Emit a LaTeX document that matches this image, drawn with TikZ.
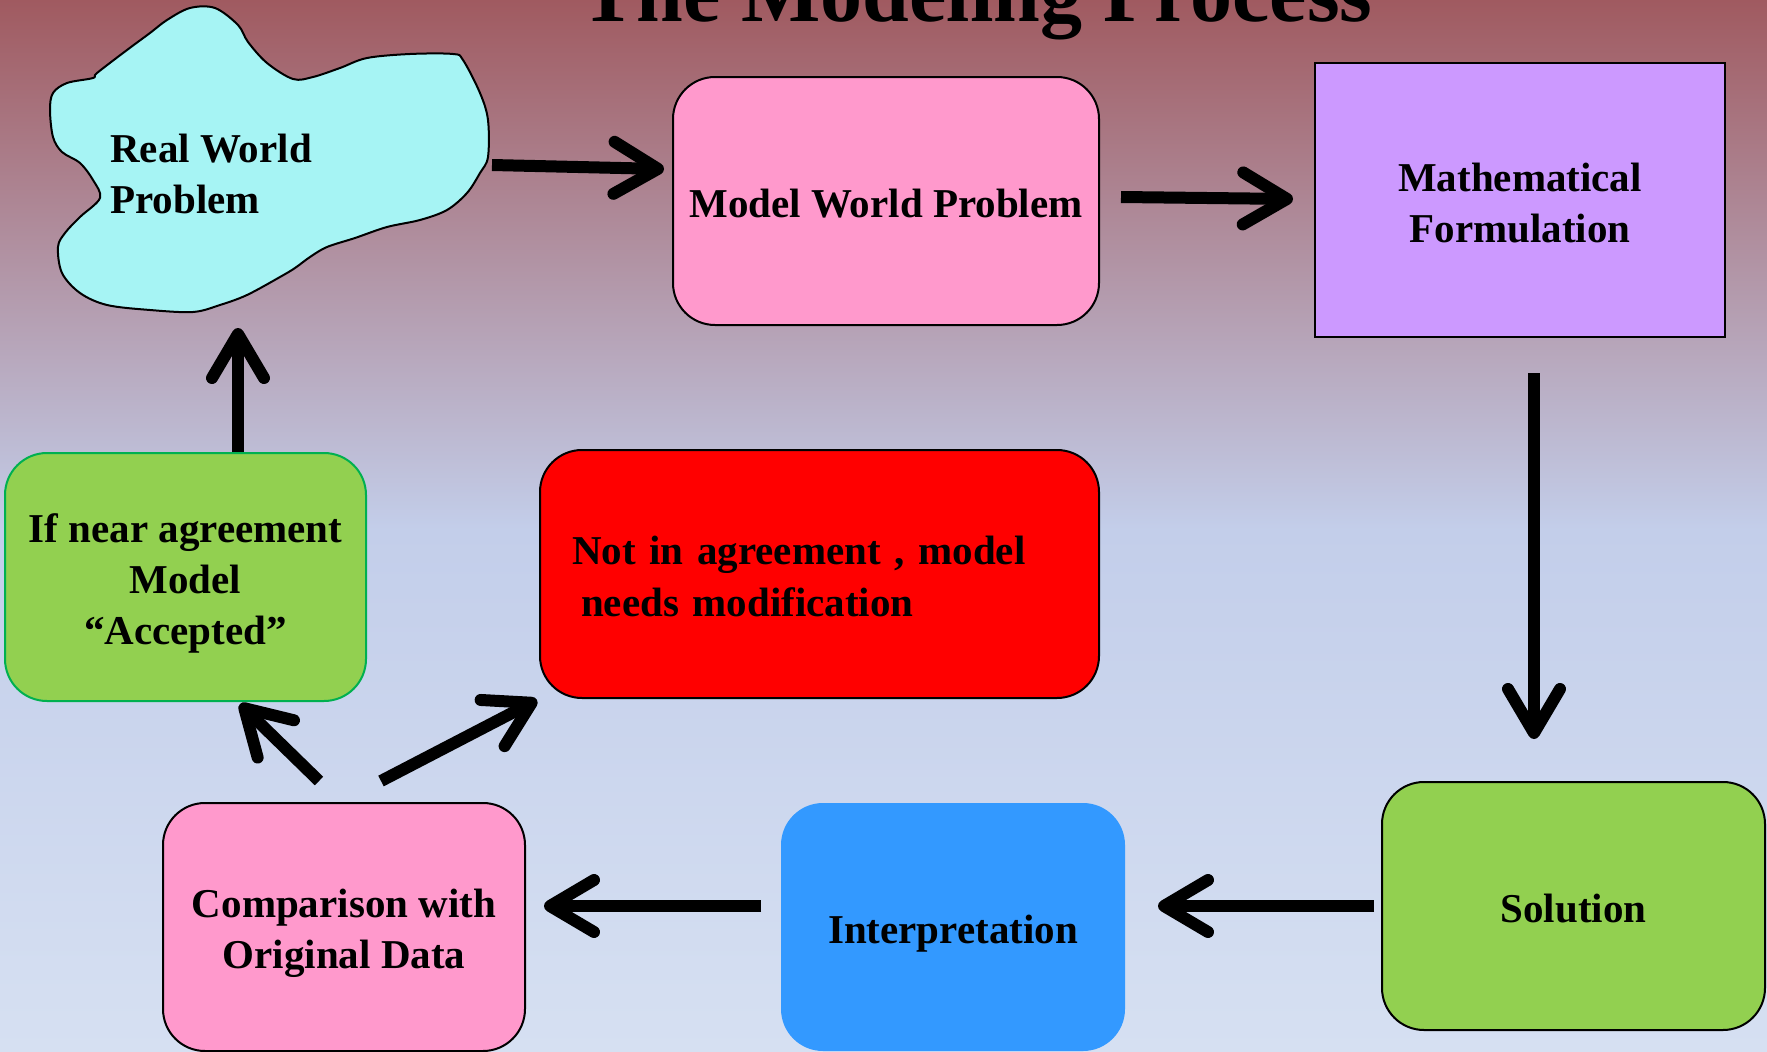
\documentclass[tikz,border=0pt]{standalone}
\usepackage{fontspec}
\setmainfont{Liberation Serif}
\usetikzlibrary{arrows.meta,calc}
\definecolor{bgtop}{HTML}{A05A60}
\definecolor{bgmid}{HTML}{C3CEEA}
\definecolor{bgbot}{HTML}{D6E0F2}
\definecolor{cloudc}{HTML}{A6F4F4}
\definecolor{pinkc}{HTML}{FF99CC}
\definecolor{purplec}{HTML}{CC99FF}
\definecolor{greenc}{HTML}{92D050}
\definecolor{accgreen}{HTML}{00B050}
\definecolor{bluec}{HTML}{3399FF}
% line strut giving every box text the same ascent and descent
\newcommand\ls{\rule[-9pt]{0pt}{51pt}}
\begin{document}
\begin{tikzpicture}[x=1pt,y=-1pt,
  lbl/.style={font=\fontsize{41}{51}\selectfont\bfseries, align=center},
  box/.style={lbl, draw=black, line width=2pt, rounded corners=42pt,
    minimum height=248pt, inner sep=0pt},
  arr/.style={line width=12pt, -{Straight Barb[length=44pt,width=52pt,round]}}]
\useasboundingbox (0,0) rectangle (1767,1052);
% background gradient
\shade[top color=bgtop, bottom color=bgmid] (0,0) rectangle (1767,530);
\shade[top color=bgmid, bottom color=bgbot] (0,530) rectangle (1767,1052);

% title
\node[font=\fontsize{84}{90}\selectfont\bfseries, anchor=base, inner sep=0pt]
  (title) at (976.5,21) {The Modeling Process};

% real world cloud
\draw[fill=cloudc, line width=2pt, line join=round]
  plot[smooth cycle, tension=0.55] coordinates {
    (190,8) (215,8) (238,25) (248,42) (267,63) (293,79) (313,77) (340,68)
    (367,58) (410,54) (453,54) (463,60) (480,93) (488,120) (488,157)
    (480,173) (467,193) (447,210) (420,220) (387,227) (355,238) (327,247)
    (310,257) (295,268) (280,277) (247,295) (220,305) (193,312) (150,310)
    (107,305) (80,293) (62,273) (58,247) (65,233) (80,217) (100,198)
    (93,180) (80,163) (62,152) (53,137) (50,110) (53,93) (67,83) (93,78)
    (97,73) (127,50) (150,33) (167,20)};
\node[lbl, align=left, anchor=west, inner sep=0pt] (rwp) at (110,174)
  {Real World\\Problem};
\coordinate (cloudE) at (492,165);
\coordinate (cloudS) at (238,328);

% boxes
\node[box, fill=pinkc, minimum width=426pt] (mwp) at (886,201)
  {\ls Model World Problem\ls};
\node[box, fill=purplec, sharp corners, minimum width=410pt,
  minimum height=274pt] (math) at (1520,200)
  {\ls Mathematical\\Formulation\ls};
\node[box, fill=greenc, draw=accgreen, minimum width=361pt] (acc)
  at (185.5,577) {\ls If near agreement\\Model\\“Accepted”\ls};
\node[box, fill=red, minimum width=559pt, text width=495pt, align=left]
  (nia) at (819.5,574)
  {\ls Not in agreement , model\\\hspace*{9pt}needs modification\ls};
\node[box, fill=pinkc, minimum width=362pt] (cmp) at (344,927)
  {\ls Comparison with\\Original Data\ls};
\node[box, draw=none, fill=bluec, minimum width=344pt] (intp) at (953,927)
  {\ls Interpretation\ls};
\node[box, fill=greenc, minimum width=383pt] (sol) at (1573.5,906)
  {\ls Solution\ls};

% connectors
\draw[arr] (cloudE) -- ($(mwp.west)+(-8,-32)$);
\draw[arr] ($(mwp.east)+(21,-4)$) -- ($(math.west)+(-21,-1)$);
\draw[arr] ($(math.south)+(14,35)$) -- ($(sol.north)+(-39.5,-42)$);
\draw[arr] ($(sol.west)+(-7,0)$) -- ($(intp.east)+(32,-21)$);
\draw[arr] ($(intp.west)+(-19,-21)$) -- ($(cmp.east)+(18,-21)$);
\draw[arr] ($(cmp.north)+(-25,-21)$) -- ($(acc.south)+(54.5,2)$);
\draw[arr] ($(cmp.north)+(37,-21)$) -- ($(nia.south west)+(-2,1)$);
\draw[arr] ($(acc.north)+(52.5,0)$) -- (cloudS);
\end{tikzpicture}
\end{document}
